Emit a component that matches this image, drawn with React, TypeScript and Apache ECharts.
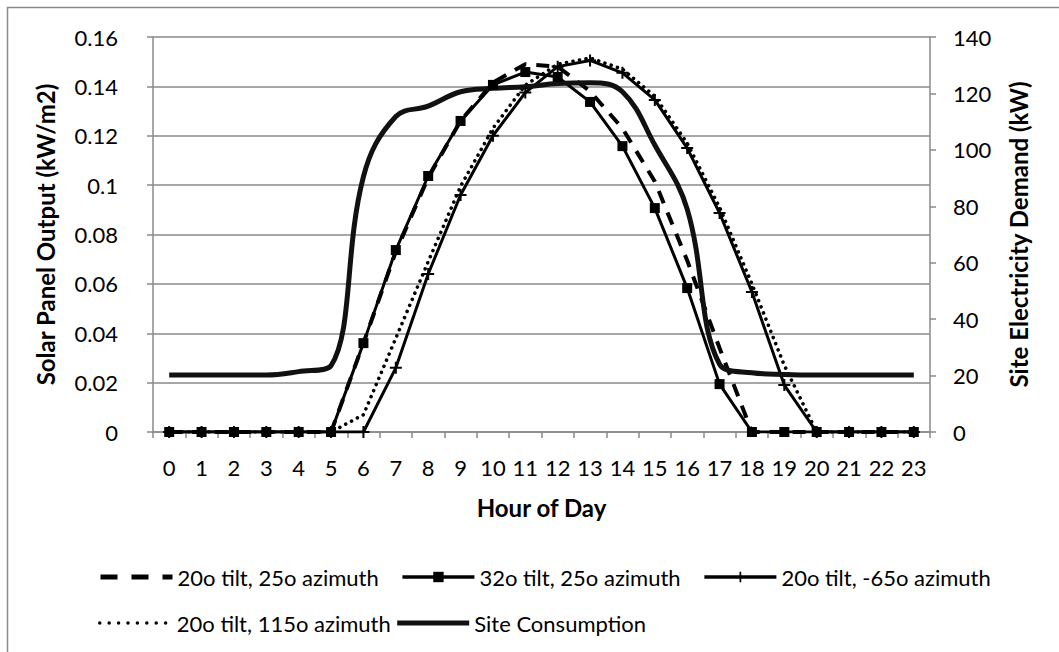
import React, { useEffect, useRef } from 'react';
import * as echarts from 'echarts';

const hours = ['0','1','2','3','4','5','6','7','8','9','10','11','12','13','14','15','16','17','18','19','20','21','22','23'];

const tilt20az25 = [0,0,0,0,0,0,0.036,0.073,0.103,0.126,0.1415,0.149,0.148,0.138,0.123,0.1015,0.0695,0.034,0,0,0,0,0,0];
const tilt32az25 = [0,0,0,0,0,0,0.036,0.0737,0.1037,0.126,0.1406,0.1458,0.1438,0.1337,0.1158,0.0907,0.0583,0.0194,0,0,0,0,0,0];
const tilt20azM65 = [0,0,0,0,0,0,0,0.026,0.064,0.096,0.12,0.1375,0.148,0.1505,0.1455,0.1345,0.115,0.0887,0.0567,0.019,0,0,0,0];
const tilt20az115 = [0,0,0,0,0,0,0.007,0.038,0.069,0.0995,0.123,0.1405,0.149,0.1515,0.147,0.136,0.117,0.091,0.06,0.027,0,0,0,0];
const siteConsumption = [20.2,20.2,20.2,20.2,21.4,23.5,90.5,111.8,115.5,120.6,121.8,122.4,123.5,123.8,120.6,101.7,79,24,21,20.4,20.2,20.2,20.2,20.2];

const seriesNames = [
  '20o tilt, 25o azimuth',
  '32o tilt, 25o azimuth',
  '20o tilt, -65o azimuth',
  '20o tilt, 115o azimuth',
  'Site Consumption',
];

const leftAxis = { min: 0, max: 0.16, interval: 0.02, name: 'Solar Panel Output (kW/m2)' };
const rightAxis = { min: 0, max: 140, interval: 20, name: 'Site Electricity Demand (kW)' };
const xAxisName = 'Hour of Day';

const FONT = 'Lato, "Open Sans", sans-serif';
const GRAY = '#8a8a8a';
const PLUS = 'path://M0,5H12V7H0Z M5,0H7V12H5Z';

export default function App() {
  const ref = useRef<HTMLDivElement>(null);
  useEffect(() => {
    const chart = echarts.init(ref.current as HTMLDivElement, null, { renderer: 'svg' });
    const labelStyle = { color: '#000', fontFamily: FONT, fontSize: 22 };
    const nameStyle = { color: '#000', fontFamily: FONT, fontSize: 24, fontWeight: 'bold' as const };
    const legendText = { color: '#000', fontFamily: FONT, fontSize: 22 };
    chart.setOption({
      animation: false,
      backgroundColor: '#fff',
      grid: { left: 153, right: 129, top: 37, bottom: 220, containLabel: false },
      graphic: [
        {
          type: 'rect',
          shape: { x: 7.5, y: 7.5, width: 1100, height: 700 },
          style: { fill: 'none', stroke: GRAY, lineWidth: 1.5 },
          silent: true,
        },
      ],
      legend: [
        {
          left: 98, top: 566, padding: 0, itemWidth: 72, itemHeight: 13, itemGap: 22,
          textStyle: legendText,
          data: [
            { name: seriesNames[0], itemStyle: { opacity: 0 }, lineStyle: { width: 5, type: [17, 14] } },
            { name: seriesNames[1], lineStyle: { width: 3.5 } },
            { name: seriesNames[2], lineStyle: { width: 3.5 } },
          ],
        },
        {
          left: 98, top: 612, padding: 0, itemWidth: 72, itemHeight: 13, itemGap: 4,
          textStyle: legendText,
          data: [
            { name: seriesNames[3], itemStyle: { opacity: 0 }, lineStyle: { width: 3.5, type: [0.01, 9.4], cap: 'round' } },
            { name: seriesNames[4], itemStyle: { opacity: 0 }, lineStyle: { width: 5 } },
          ],
        },
      ],
      xAxis: {
        type: 'category',
        data: hours,
        boundaryGap: true,
        name: xAxisName,
        nameLocation: 'middle',
        nameGap: 63,
        nameTextStyle: nameStyle,
        axisLine: { lineStyle: { color: GRAY, width: 1.5 } },
        axisTick: { show: true, length: 6, lineStyle: { color: GRAY, width: 1.5 } },
        axisLabel: { ...labelStyle, margin: 24, interval: 0 },
        splitLine: { show: false },
      },
      yAxis: [
        {
          type: 'value',
          position: 'left',
          min: leftAxis.min, max: leftAxis.max, interval: leftAxis.interval,
          name: leftAxis.name,
          nameLocation: 'middle',
          nameGap: 96,
          nameRotate: 90,
          nameTextStyle: nameStyle,
          axisLine: { show: true, lineStyle: { color: GRAY, width: 1.5 } },
          axisTick: { show: true, length: 6, lineStyle: { color: GRAY, width: 1.5 } },
          axisLabel: { ...labelStyle, margin: 35, formatter: (v: number) => String(+v.toFixed(2)) },
          splitLine: { show: true, lineStyle: { color: GRAY, width: 1.5 } },
        },
        {
          type: 'value',
          position: 'right',
          min: rightAxis.min, max: rightAxis.max, interval: rightAxis.interval,
          name: rightAxis.name,
          nameLocation: 'middle',
          nameGap: 76,
          nameRotate: 90,
          nameTextStyle: nameStyle,
          axisLine: { show: true, lineStyle: { color: GRAY, width: 1.5 } },
          axisTick: { show: true, length: 6, lineStyle: { color: GRAY, width: 1.5 } },
          axisLabel: { ...labelStyle, margin: 23 },
          splitLine: { show: false },
        },
      ],
      series: [
        {
          name: seriesNames[0], type: 'line', data: tilt20az25, yAxisIndex: 0,
          symbol: 'none', silent: true,
          lineStyle: { color: '#000', width: 4, type: [13, 10] },
          itemStyle: { color: '#000' },
          emphasis: { disabled: true },
        },
        {
          name: seriesNames[1], type: 'line', data: tilt32az25, yAxisIndex: 0,
          symbol: 'rect', symbolSize: 10, showAllSymbol: true, silent: true,
          lineStyle: { color: '#000', width: 3 },
          itemStyle: { color: '#000' },
          emphasis: { disabled: true },
        },
        {
          name: seriesNames[2], type: 'line', data: tilt20azM65, yAxisIndex: 0,
          symbol: PLUS, symbolSize: 12, showAllSymbol: true, silent: true,
          lineStyle: { color: '#000', width: 3 },
          itemStyle: { color: '#000' },
          emphasis: { disabled: true },
        },
        {
          name: seriesNames[3], type: 'line', data: tilt20az115, yAxisIndex: 0,
          symbol: 'none', silent: true,
          lineStyle: { color: '#000', width: 3.6, type: [0.01, 6.6], cap: 'round' },
          itemStyle: { color: '#000' },
          emphasis: { disabled: true },
        },
        {
          name: seriesNames[4], type: 'line', data: siteConsumption, yAxisIndex: 1,
          symbol: 'none', smooth: 0.4, silent: true,
          lineStyle: { color: '#111', width: 5 },
          itemStyle: { color: '#111' },
          emphasis: { disabled: true },
        },
      ],
    });
    return () => chart.dispose();
  }, []);
  return (
    <div
      ref={ref}
      style={{ position: 'absolute', left: 0, top: 0, width: 1059, height: 652, background: '#fff' }}
    />
  );
}
